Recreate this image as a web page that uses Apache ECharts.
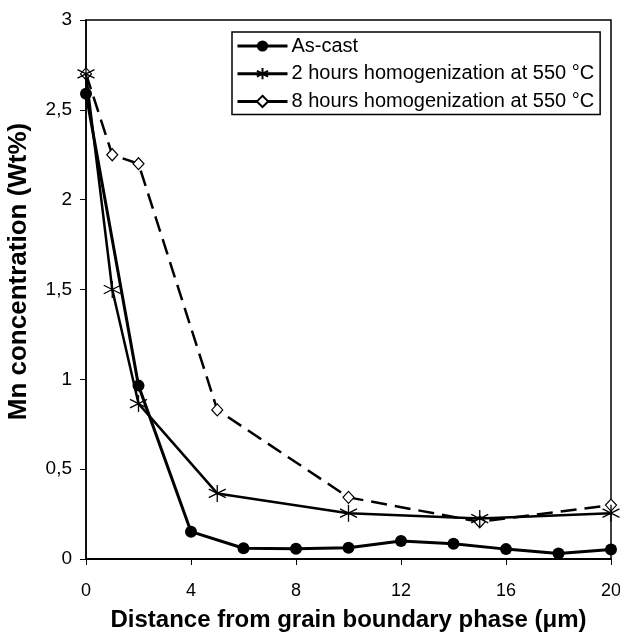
<!DOCTYPE html>
<html>
<head>
<meta charset="utf-8">
<script src="https://cdn.jsdelivr.net/npm/echarts@6/dist/echarts.min.js"></script>
<style>
  html, body { margin: 0; padding: 0; background: #fff; }
  #chart { width: 620px; height: 637px; }
</style>
</head>
<body>
<div id="chart"></div>
<script>
// Mn profile across the grain boundary phase
const asCastX = [0, 2, 4, 6, 8, 10, 12, 14, 16, 18, 20];
const asCastY = [2.59, 0.965, 0.152, 0.06, 0.057, 0.062, 0.1, 0.085, 0.055, 0.03, 0.053];

const hom2hX = [0, 1, 2, 5, 10, 15, 20];
const hom2hY = [2.7, 1.5, 0.865, 0.365, 0.255, 0.225, 0.255];

const hom8hX = [0, 1, 2, 5, 10, 15, 20];
const hom8hY = [2.7, 2.25, 2.2, 0.83, 0.343, 0.207, 0.3];

const seriesNames = ['As-cast', '2 hours homogenization at 550 °C', '8 hours homogenization at 550 °C'];

const pairs = (xs, ys) => xs.map((x, i) => [x, ys[i]]);

const font = 'Arial, "Liberation Sans", sans-serif';
const asterisk = 'path://M0,-10L0,10M-8.66,-5L8.66,5M-8.66,5L8.66,-5';

const chart = echarts.init(document.getElementById('chart'));

chart.setOption({
  animation: false,
  backgroundColor: '#fff',
  grid: {
    left: 86, right: 9, top: 20, bottom: 78,
    outerBoundsMode: 'none',
    show: true, borderColor: '#000', borderWidth: 1.5
  },
  legend: {
    orient: 'vertical',
    left: 232,
    top: 32,
    padding: [4, 6, 3, 4],
    itemWidth: 50,
    itemHeight: 14,
    itemGap: 7.7,
    backgroundColor: '#fff',
    borderColor: '#000',
    borderWidth: 1.5,
    lineStyle: { width: 3, type: 'solid' },
    textStyle: { fontFamily: font, fontSize: 20, color: '#000', padding: [0, 0, 0, -1] },
    data: seriesNames
  },
  xAxis: {
    type: 'value',
    min: 0,
    max: 20,
    interval: 4,
    name: 'Distance from grain boundary phase (μm)',
    nameLocation: 'middle',
    nameGap: 49,
    nameTextStyle: { fontFamily: font, fontSize: 24, fontWeight: 'bold', color: '#000' },
    axisLine: { lineStyle: { color: '#000', width: 2 } },
    axisTick: { inside: false, length: 6, lineStyle: { color: '#000', width: 1 } },
    axisLabel: { fontFamily: font, fontSize: 18, color: '#000', margin: 23 },
    splitLine: { show: false }
  },
  yAxis: {
    type: 'value',
    min: 0,
    max: 3,
    interval: 0.5,
    name: 'Mn concentration (Wt%)',
    nameLocation: 'middle',
    nameGap: 54,
    nameTextStyle: { fontFamily: font, fontSize: 26, fontWeight: 'bold', color: '#000', padding: [0, 0, 0, 36] },
    axisLine: { show: true, lineStyle: { color: '#000', width: 1.5 } },
    axisTick: { show: true, inside: false, length: 6, lineStyle: { color: '#000', width: 1 } },
    axisLabel: {
      fontFamily: font, fontSize: 19, color: '#000', margin: 14,
      formatter: v => String(v).replace('.', ',')
    },
    splitLine: { show: false }
  },
  series: [
    {
      name: seriesNames[0],
      type: 'line',
      data: pairs(asCastX, asCastY),
      symbol: 'circle',
      symbolSize: 12,
      itemStyle: { color: '#000' },
      lineStyle: { color: '#000', width: 3 },
      z: 3
    },
    {
      name: seriesNames[1],
      type: 'line',
      data: pairs(hom2hX, hom2hY),
      symbol: asterisk,
      symbolSize: 17,
      itemStyle: { color: 'none', borderColor: '#000', borderWidth: 1.3 },
      lineStyle: { color: '#000', width: 2.5 },
      z: 4
    },
    {
      name: seriesNames[2],
      type: 'line',
      data: pairs(hom8hX, hom8hY),
      symbol: 'diamond',
      symbolSize: [11, 12],
      itemStyle: { color: '#fff', borderColor: '#000', borderWidth: 1.2 },
      lineStyle: { color: '#000', width: 2.5, type: [16, 8] },
      z: 2
    }
  ]
});
</script>
</body>
</html>
